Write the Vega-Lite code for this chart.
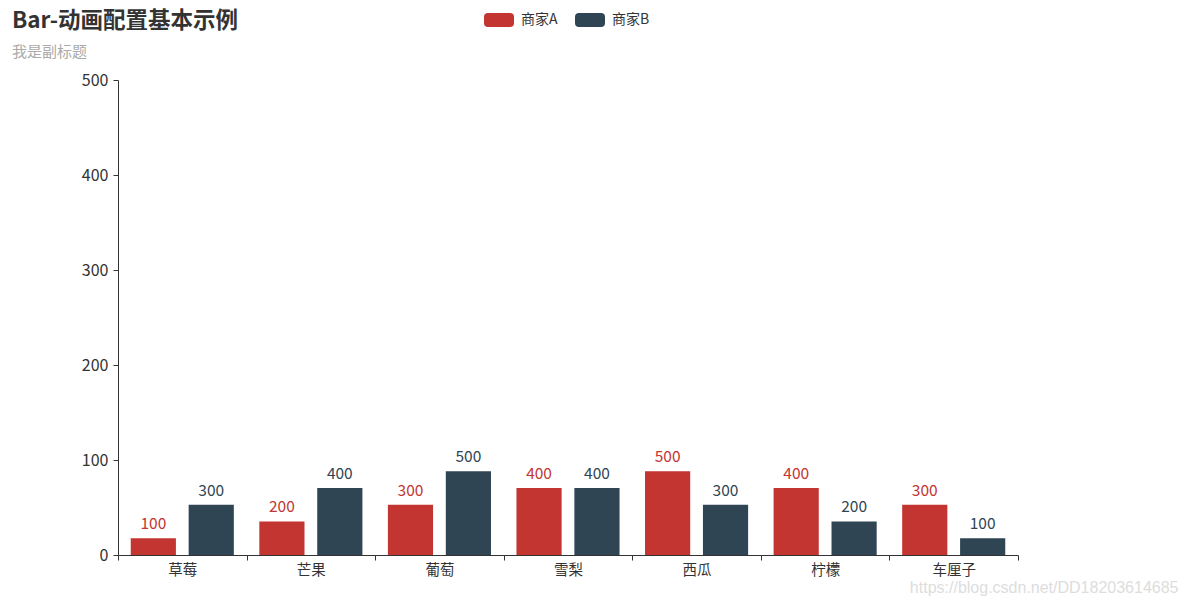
{
  "$schema": "https://vega.github.io/schema/vega-lite/v6.json",
  "width": 900,
  "height": 475,
  "autosize": {"type": "none"},
  "padding": {"left": 118, "top": 80, "right": 170, "bottom": 49},
  "background": "white",
  "config": {"view": {"stroke": null}, "font": "Noto Sans CJK SC"},
  "title": {
    "text": "Bar-动画配置基本示例",
    "subtitle": "我是副标题",
    "anchor": "start",
    "frame": "group",
    "dx": -106,
    "dy": 75,
    "offset": 20,
    "fontSize": 22.5,
    "fontWeight": "bold",
    "color": "#333333",
    "subtitleFontSize": 15,
    "subtitleColor": "#aaaaaa",
    "subtitlePadding": 12
  },
  "data": {
    "values": [
      {"fruit": "草莓", "series": "商家A", "value": 100, "shown": 17.7},
      {"fruit": "草莓", "series": "商家B", "value": 300, "shown": 53},
      {"fruit": "芒果", "series": "商家A", "value": 200, "shown": 35.3},
      {"fruit": "芒果", "series": "商家B", "value": 400, "shown": 70.6},
      {"fruit": "葡萄", "series": "商家A", "value": 300, "shown": 53},
      {"fruit": "葡萄", "series": "商家B", "value": 500, "shown": 88.2},
      {"fruit": "雪梨", "series": "商家A", "value": 400, "shown": 70.6},
      {"fruit": "雪梨", "series": "商家B", "value": 400, "shown": 70.6},
      {"fruit": "西瓜", "series": "商家A", "value": 500, "shown": 88.2},
      {"fruit": "西瓜", "series": "商家B", "value": 300, "shown": 53},
      {"fruit": "柠檬", "series": "商家A", "value": 400, "shown": 70.6},
      {"fruit": "柠檬", "series": "商家B", "value": 200, "shown": 35.3},
      {"fruit": "车厘子", "series": "商家A", "value": 300, "shown": 53},
      {"fruit": "车厘子", "series": "商家B", "value": 100, "shown": 17.7}
    ]
  },
  "encoding": {
    "x": {
      "field": "fruit",
      "type": "nominal",
      "sort": null,
      "scale": {"paddingInner": 0, "paddingOuter": 0},
      "axis": {
        "title": "https://blog.csdn.net/DD18203614685",
        "titleFont": "Liberation Sans",
        "titleFontWeight": "normal",
        "titleFontSize": 16,
        "titleColor": "#dddddd",
        "titleX": 1060,
        "titleY": 37,
        "titleAlign": "right",
        "titleBaseline": "alphabetic",
        "titleAngle": 0,
        "domainColor": "#333333",
        "tickColor": "#333333",
        "tickBand": "extent",
        "tickSize": 5,
        "labelPadding": 3,
        "labelFontSize": 14.5,
        "labelColor": "#333333",
        "labelAngle": 0,
        "labelBaseline": "top"
      }
    },
    "xOffset": {
      "field": "series",
      "type": "nominal",
      "scale": {"paddingInner": 0.22, "paddingOuter": 0.22}
    },
    "color": {
      "field": "series",
      "type": "nominal",
      "scale": {"domain": ["商家A", "商家B"], "range": ["#c23531", "#2f4554"]},
      "legend": {
        "title": null,
        "orient": "none",
        "direction": "horizontal",
        "legendX": 366,
        "legendY": -75.5,
        "symbolType": "M -0.733,-0.467 L 0.733,-0.467 Q 1,-0.467 1,-0.2 L 1,0.2 Q 1,0.467 0.733,0.467 L -0.733,0.467 Q -1,0.467 -1,0.2 L -1,-0.2 Q -1,-0.467 -0.733,-0.467 Z",
        "symbolSize": 900,
        "symbolStrokeWidth": 0,
        "symbolOpacity": 1,
        "labelFontSize": 14,
        "labelColor": "#333333",
        "labelOffset": 7,
        "columnPadding": 17
      }
    }
  },
  "layer": [
    {
      "mark": {"type": "bar"},
      "encoding": {
        "y": {
          "field": "shown",
          "type": "quantitative",
          "scale": {"domain": [0, 500], "nice": false},
          "axis": {
            "title": null,
            "values": [0, 100, 200, 300, 400, 500],
            "grid": false,
            "domainColor": "#333333",
            "tickColor": "#333333",
            "tickSize": 5,
            "labelPadding": 5,
            "labelFontSize": 16,
            "labelColor": "#333333"
          }
        }
      }
    },
    {
      "mark": {"type": "text", "dy": -9, "baseline": "alphabetic", "fontSize": 15.5},
      "encoding": {
        "y": {"field": "shown", "type": "quantitative"},
        "text": {"field": "value", "type": "quantitative"}
      }
    }
  ]
}
